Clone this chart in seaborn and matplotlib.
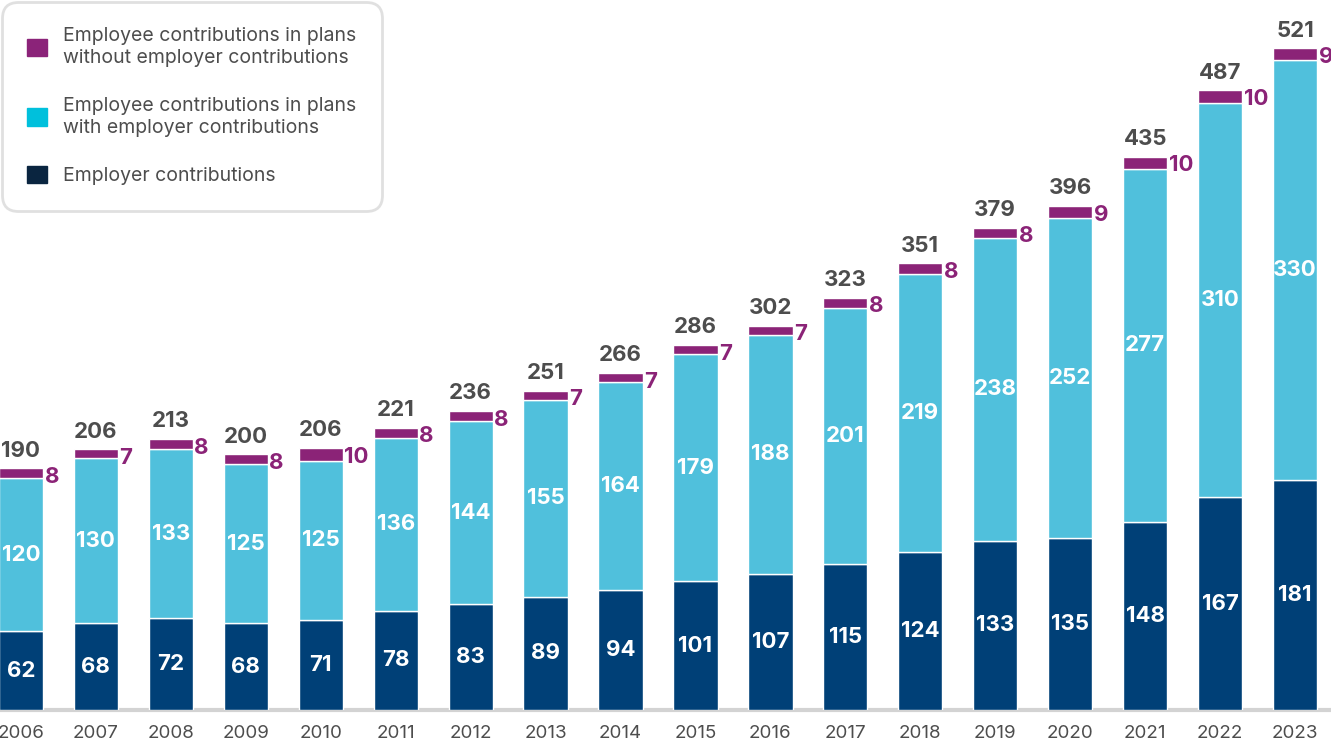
import matplotlib
matplotlib.use("Agg")
import matplotlib.pyplot as plt
from matplotlib.patches import Patch
import seaborn as sns
import pandas as pd

years = [str(y) for y in range(2006, 2024)]
employer = [62, 68, 72, 68, 71, 78, 83, 89, 94, 101, 107, 115, 124, 133, 135, 148, 167, 181]
emp_with = [120, 130, 133, 125, 125, 136, 144, 155, 164, 179, 188, 201, 219, 238, 252, 277, 310, 330]
emp_without = [8, 7, 8, 8, 10, 8, 8, 7, 7, 7, 7, 8, 8, 8, 9, 10, 10, 9]
totals = [190, 206, 213, 200, 206, 221, 236, 251, 266, 286, 302, 323, 351, 379, 396, 435, 487, 521]

legend_labels = ["Employee contributions in plans\nwithout employer contributions",
                 "Employee contributions in plans\nwith employer contributions",
                 "Employer contributions"]

c_dark = "#004077"
c_cyan = "#50c0dc"
c_purple = "#8b2377"
c_text = "#4d4d4d"


def main():
    sns.set_style("white")
    plt.rcParams['font.family'] = ['Inter', 'DejaVu Sans']

    df = pd.DataFrame({"year": years, "employer": employer, "with": emp_with,
                       "without": emp_without, "total": totals})
    df["b2"] = df["employer"]
    df["b3"] = df["employer"] + df["with"]

    fig = plt.figure(figsize=(13.31, 7.45), dpi=100)
    ax = fig.add_axes([0, 0.047, 1, 0.953])

    w = 0.59
    sns.barplot(data=df, x="year", y="employer", color=c_dark, saturation=1, width=w, ax=ax)
    sns.barplot(data=df, x="year", y="with", bottom=df["b2"], color=c_cyan, saturation=1, width=w, ax=ax)
    sns.barplot(data=df, x="year", y="without", bottom=df["b3"], color=c_purple, saturation=1, width=w, ax=ax)

    fs = 16
    for i, r in df.iterrows():
        ax.text(i, r["employer"] / 2, str(r["employer"]), ha="center", va="center",
                color="white", fontsize=fs, fontweight="bold")
        ax.text(i, r["b2"] + r["with"] / 2, str(r["with"]), ha="center", va="center",
                color="white", fontsize=fs, fontweight="bold")
        top = r["b3"] + r["without"]
        ax.text(i + w / 2 + 0.02, top + 1, str(r["without"]), ha="left", va="top",
                color=c_purple, fontsize=fs, fontweight="bold")
        ax.text(i, top + 6, str(r["total"]), ha="center", va="bottom",
                color=c_text, fontsize=fs, fontweight="bold")

    ax.set_xlim(-0.28, 17.48)
    ax.set_ylim(0, 558)
    ax.axhline(0, color="#d3d3d3", lw=3, clip_on=False, zorder=0)
    for s in ax.spines.values():
        s.set_visible(False)
    ax.set_yticks([])
    ax.set_xlabel("")
    ax.set_ylabel("")
    ax.tick_params(axis="x", length=0, pad=11, labelsize=13.5, labelcolor=c_text)

    handles = [Patch(color="#8b2379"), Patch(color="#00c0dc"), Patch(color="#0a2540")]
    leg = fig.legend(handles, legend_labels, loc="upper left", bbox_to_anchor=(2 / 1331, 1 - 2 / 745),
                     borderaxespad=0, fontsize=14, labelspacing=1.5, handlelength=1.0,
                     handleheight=1.0, handletextpad=0.85, borderpad=1.3, frameon=True,
                     fancybox=True, labelcolor=c_text)
    frame = leg.get_frame()
    frame.set_edgecolor("#d9d9d9")
    frame.set_linewidth(2)
    frame.set_boxstyle("round,pad=0,rounding_size=0.8")
    for t in leg.get_texts():
        t.set_linespacing(1.3)

    fig.savefig("out.png", dpi=100)


if __name__ == "__main__":
    main()
